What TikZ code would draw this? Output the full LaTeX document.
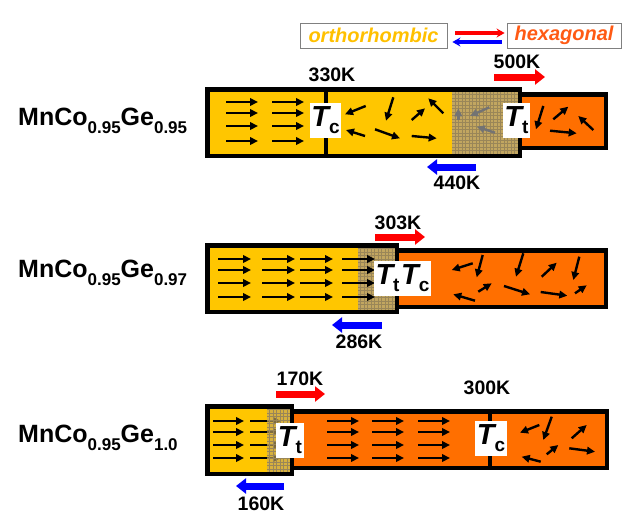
\documentclass[tikz,border=0pt]{standalone}
\usepackage{fontspec}
\setmainfont{Liberation Sans}
\usetikzlibrary{arrows.meta,positioning}
\definecolor{orthoyellow}{HTML}{FFC600}
\definecolor{hexaorange}{HTML}{FF6F00}
\definecolor{mixkhaki}{HTML}{C2A660}
\definecolor{mixgrid}{HTML}{9A8658}
\definecolor{orthotext}{HTML}{FFC000}
\definecolor{hexatext}{HTML}{FF5A14}
\newcommand{\lowidx}[1]{\raisebox{-8pt}{\fontsize{17}{17}\selectfont #1}}
\newcommand{\Tsym}[1]{{\fontsize{29}{29}\selectfont\bfseries\itshape T}\raisebox{-7pt}{\fontsize{19}{19}\selectfont\bfseries #1}}
\begin{document}
\begin{tikzpicture}[x=1pt, y=-1pt,
	spin/.style={-{Triangle[length=8pt,width=7.5pt]}, line width=2.4pt},
	greyspin/.style={spin, draw=black!55},
	heatup/.style={-{Triangle[length=10pt,width=15pt]}, line width=7pt, draw=red},
	cooldown/.style={heatup, draw=blue},
	frame/.style={line width=4.5pt, draw=black},
	temp/.style={font=\fontsize{19.5}{20}\selectfont\bfseries, inner sep=0pt},
	tlabel/.style={fill=white, inner sep=1.5pt, minimum height=35pt},
	compound/.style={font=\fontsize{25}{25}\selectfont\bfseries, inner sep=0pt, anchor=base west},
	phase/.style={draw=black!50, line width=0.8pt, minimum height=25pt, inner sep=0pt, font=\fontsize{20}{20}\selectfont\bfseries\itshape},
	mesh/.style={mixgrid, line width=0.35pt, step=3.5pt}]
	\useasboundingbox (0,0) rectangle (632,525);
	
	% phases
	\node[phase, minimum width=147pt, text=orthotext] (ortho) at (373.5,35.5) {orthorhombic};
	\node[phase, minimum width=114pt, text=hexatext]  (hexa)  at (564,35.5)   {hexagonal};
	\draw[red, line width=3.5pt, -{Stealth[length=8pt,width=9pt]}, shorten <=8pt, shorten >=2pt] ([yshift=2.5pt]ortho.east) -- ([yshift=2.5pt]hexa.west);
	\draw[blue, line width=3.5pt, -{Stealth[length=8pt,width=9pt]}, shorten <=5pt, shorten >=5pt] ([yshift=-6.5pt]hexa.west) -- ([yshift=-6.5pt]ortho.east);
	
	% MnCo0.95Ge0.95
	\node[compound] (mc95) at (18,125) {MnCo\lowidx{0.95}Ge\lowidx{0.95}};
	\fill[hexaorange] (519.75,94.25) rectangle (605.75,147.75);
	\fill[orthoyellow] (207.25,89.25) rectangle (519.75,155.75);
	\fill[mixkhaki] (452,89) rectangle (520,156);
	\draw[mesh] (452,89) grid (520,156);
	\foreach \y in {102,113,126,141}
	\foreach \x in {226,272}
	\draw[spin] (\x,\y) -- ++(32,0);
	\foreach \a/\b in {{365.7,106}/{345,114.3}, {393.3,97.3}/{386,120.7}, {411.7,120}/{425,108.3},
		{443.3,113.3}/{428.3,98.3}, {365,136}/{346,130}, {375,129.3}/{400,138.3}, {411.7,136}/{436.7,138.3},
		{543.3,106}/{536,129.3}, {553.3,119.3}/{568.3,106.7}, {593.3,130}/{578.3,116}, {550,130.7}/{576.7,133.3}}
	\draw[spin] (\a) -- (\b);
	\foreach \a/\b in {{458.3,120}/{458.3,108.3}, {489.3,107.3}/{470,116}, {495,132.7}/{476.7,126.7}}
	\draw[greyspin] (\a) -- (\b);
	\draw[line width=4pt] (325.5,89) -- (325.5,156);
	\draw[frame] (519.75,94.25) rectangle (605.75,147.75);
	\draw[frame] (207.25,89.25) rectangle (519.75,155.75);
	\node[tlabel] (tc95) at (325.5,120.5) {\Tsym{c}};
	\node[tlabel] (tt95) at (516.5,120.5) {\Tsym{t}};
	\node[temp] (k330) at (332,75) {330K};
	\coordinate (up95a) at (494,77);  \coordinate (up95b) at (545,77);
	\coordinate (dn95a) at (476,167); \coordinate (dn95b) at (427,167);
	\draw[heatup] (up95a) -- (up95b);
	\draw[cooldown] (dn95a) -- (dn95b);
	\node[temp] (k500) at (517,62) {500K};
	\node[temp] (k440) at (457,183) {440K};
	
	% MnCo0.95Ge0.97
	\node[compound] (mc97) at (18,277) {MnCo\lowidx{0.95}Ge\lowidx{0.97}};
	\fill[hexaorange] (396.75,250.25) rectangle (605.75,306.75);
	\fill[orthoyellow] (207.25,245.25) rectangle (396.75,311.75);
	\fill[mixkhaki] (358,245) rectangle (397,312);
	\draw[mesh] (358,245) grid (397,312);
	\foreach \y in {259,270,283,297}
	\foreach \x in {218,262,300,342}
	\draw[spin] (\x,\y) -- ++(33,0);
	\foreach \a/\b in {{472.7,263.3}/{451.7,270}, {482.7,255}/{476.7,277.3}, {523.3,253.3}/{516,276.7},
		{541.7,276.7}/{556.7,262.7}, {579.3,256.7}/{573.3,280}, {478.3,291.7}/{491.7,283.3},
		{475,300.7}/{453.3,294.3}, {504,286}/{530,294.3}, {540.7,292}/{567.3,295.7}, {575,293.3}/{586.7,285.3}}
	\draw[spin] (\a) -- (\b);
	\draw[frame] (396.75,250.25) rectangle (605.75,306.75);
	\draw[frame] (207.25,245.25) rectangle (396.75,311.75);
	\node[tlabel] (ttc97) at (402.5,278.5) {\Tsym{t}\,\Tsym{c}};
	\coordinate (up97a) at (375,237); \coordinate (up97b) at (425,237);
	\coordinate (dn97a) at (382,325); \coordinate (dn97b) at (332,325);
	\draw[heatup] (up97a) -- (up97b);
	\draw[cooldown] (dn97a) -- (dn97b);
	\node[temp] (k303) at (398,223) {303K};
	\node[temp] (k286) at (359,342) {286K};
	
	% MnCo0.95Ge1.0
	\node[compound] (mc10) at (18,442) {MnCo\lowidx{0.95}Ge\lowidx{1.0}};
	\fill[hexaorange] (291.75,411.25) rectangle (606.75,467.75);
	\fill[orthoyellow] (207.25,406.25) rectangle (291.75,473.75);
	\foreach \y in {421,432,445,458} {
		\foreach \x in {213,250}
		\draw[spin] (\x,\y) -- ++(31,0);
		\foreach \x in {327,372,418}
		\draw[spin] (\x,\y) -- ++(32,0);
	}
	\fill[mixkhaki, fill opacity=0.65] (267,406) rectangle (292,474);
	\draw[mesh] (267,406) grid (292,474);
	\foreach \a/\b in {{539.3,425}/{520,432.7}, {551.7,416.7}/{543.3,440}, {571.7,438.3}/{586.7,425},
		{546.7,454.3}/{558.3,445}, {540.7,461.7}/{521.7,456.7}, {569.3,448.3}/{595,451.7}}
	\draw[spin] (\a) -- (\b);
	\draw[line width=4pt] (489.5,411) -- (489.5,468);
	\draw[frame] (291.75,411.25) rectangle (606.75,467.75);
	\draw[frame] (207.25,406.25) rectangle (291.75,473.75);
	\node[tlabel] (tt10) at (290,440) {\Tsym{t}};
	\node[tlabel] (tc10) at (491,438.5) {\Tsym{c}};
	\node[temp] (k300) at (487,388) {300K};
	\coordinate (up10a) at (276,394); \coordinate (up10b) at (325,394);
	\coordinate (dn10a) at (284,486); \coordinate (dn10b) at (236,486);
	\draw[heatup] (up10a) -- (up10b);
	\draw[cooldown] (dn10a) -- (dn10b);
	\node[temp] (k170) at (300,379) {170K};
	\node[temp] (k160) at (261,504) {160K};
\end{tikzpicture}
\end{document}
